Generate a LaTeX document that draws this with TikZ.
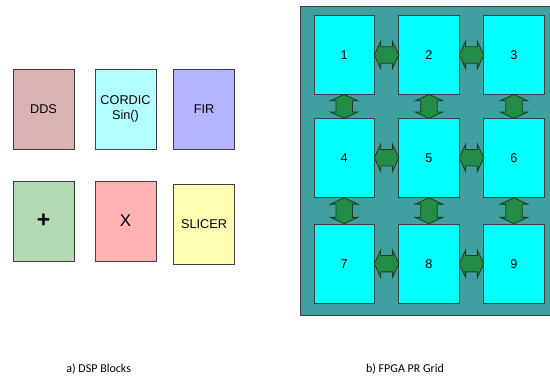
\documentclass[tikz,border=0pt]{standalone}
\usepackage{fontspec}
\setmainfont{Liberation Sans}
\newfontfamily\capfont{Carlito}
\usepackage{tikz}
\usetikzlibrary{shapes.arrows, positioning, calc}
\usepackage{xcolor}
\definecolor{blockedge}{HTML}{404040}
\definecolor{ddsfill}{HTML}{D9B3B3}
\definecolor{cordicfill}{HTML}{B3FFFF}
\definecolor{firfill}{HTML}{B3B3FF}
\definecolor{addfill}{HTML}{B3D9B3}
\definecolor{mulfill}{HTML}{FFB3B3}
\definecolor{slicerfill}{HTML}{FFFFB3}
\definecolor{gridteal}{HTML}{40A0A0}
\definecolor{cellcyan}{HTML}{00FFFF}
\definecolor{linkgreen}{HTML}{228B46}
\definecolor{linkedge}{HTML}{1E3A22}

\tikzset{
    dspblock/.style={draw=blockedge, line width=0.8pt, minimum width=61pt, minimum height=80pt, inner sep=0pt, align=center, font=\fontsize{12.7}{14.5}\selectfont},
    prcell/.style={draw=blockedge, fill=cellcyan, line width=0.8pt, minimum width=60.5pt, minimum height=79pt, inner sep=0pt, font=\fontsize{12.7}{14.5}\selectfont},
    linkarrow/.style={double arrow, draw=linkedge, fill=linkgreen, line width=0.8pt, inner xsep=0pt, inner ysep=7.8pt, double arrow head extend=5.5pt, double arrow tip angle=130},
    caption/.style={font=\capfont\fontsize{12}{14}\selectfont}
}

\begin{document}
\begin{tikzpicture}[x=1pt, y=-1pt]
    \useasboundingbox (0,0) rectangle (550,377);

    % a) DSP blocks
    \node[dspblock, fill=ddsfill] (dds) at (43.5,109) {DDS};
    \node[dspblock, fill=cordicfill] (cordic) at (125.5,109) {CORDIC\\Sin()};
    \node[dspblock, fill=firfill] (fir) at (204,109) {FIR};
    \node[dspblock, fill=addfill, font=\fontsize{23}{24}\selectfont\bfseries] (add) at (43.5,221) {+};
    \node[dspblock, fill=mulfill, font=\fontsize{17}{20}\selectfont] (mul) at (125.5,221) {X};
    \node[dspblock, fill=slicerfill] (slicer) at (204,224) {SLICER};

    % b) FPGA PR grid
    \draw[draw=blockedge, fill=gridteal, line width=0.8pt] (300,6) rectangle (553,315);

    \node[prcell] (pr1) at (344.2,55) {1};
    \node[prcell] (pr2) at (429,55) {2};
    \node[prcell] (pr3) at (514,55) {3};
    \node[prcell] (pr4) at (344.2,157.8) {4};
    \node[prcell] (pr5) at (429,157.8) {5};
    \node[prcell] (pr6) at (514,157.8) {6};
    \node[prcell] (pr7) at (344.2,263.7) {7};
    \node[prcell] (pr8) at (429,263.7) {8};
    \node[prcell] (pr9) at (514,263.7) {9};

    % horizontal links
    \node[linkarrow, minimum height=24.5pt] (l12) at ($(pr1.east)!0.5!(pr2.west)$) {};
    \node[linkarrow, minimum height=24.5pt] (l23) at ($(pr2.east)!0.5!(pr3.west)$) {};
    \node[linkarrow, minimum height=24.5pt] (l45) at ($(pr4.east)!0.5!(pr5.west)$) {};
    \node[linkarrow, minimum height=24.5pt] (l56) at ($(pr5.east)!0.5!(pr6.west)$) {};
    \node[linkarrow, minimum height=24.5pt] (l78) at ($(pr7.east)!0.5!(pr8.west)$) {};
    \node[linkarrow, minimum height=24.5pt] (l89) at ($(pr8.east)!0.5!(pr9.west)$) {};

    % vertical links
    \node[linkarrow, rotate=90, minimum height=24pt] (l14) at ($(pr1.south)!0.5!(pr4.north)$) {};
    \node[linkarrow, rotate=90, minimum height=24pt] (l25) at ($(pr2.south)!0.5!(pr5.north)$) {};
    \node[linkarrow, rotate=90, minimum height=24pt] (l36) at ($(pr3.south)!0.5!(pr6.north)$) {};
    \node[linkarrow, rotate=90, minimum height=26pt] (l47) at ($(pr4.south)!0.5!(pr7.north)$) {};
    \node[linkarrow, rotate=90, minimum height=26pt] (l58) at ($(pr5.south)!0.5!(pr8.north)$) {};
    \node[linkarrow, rotate=90, minimum height=26pt] (l69) at ($(pr6.south)!0.5!(pr9.north)$) {};

    % captions
    \node[caption] (capa) at (98.7,369) {a) DSP Blocks};
    \node[caption] (capb) at (405,369) {b) FPGA PR Grid};
\end{tikzpicture}
\end{document}
